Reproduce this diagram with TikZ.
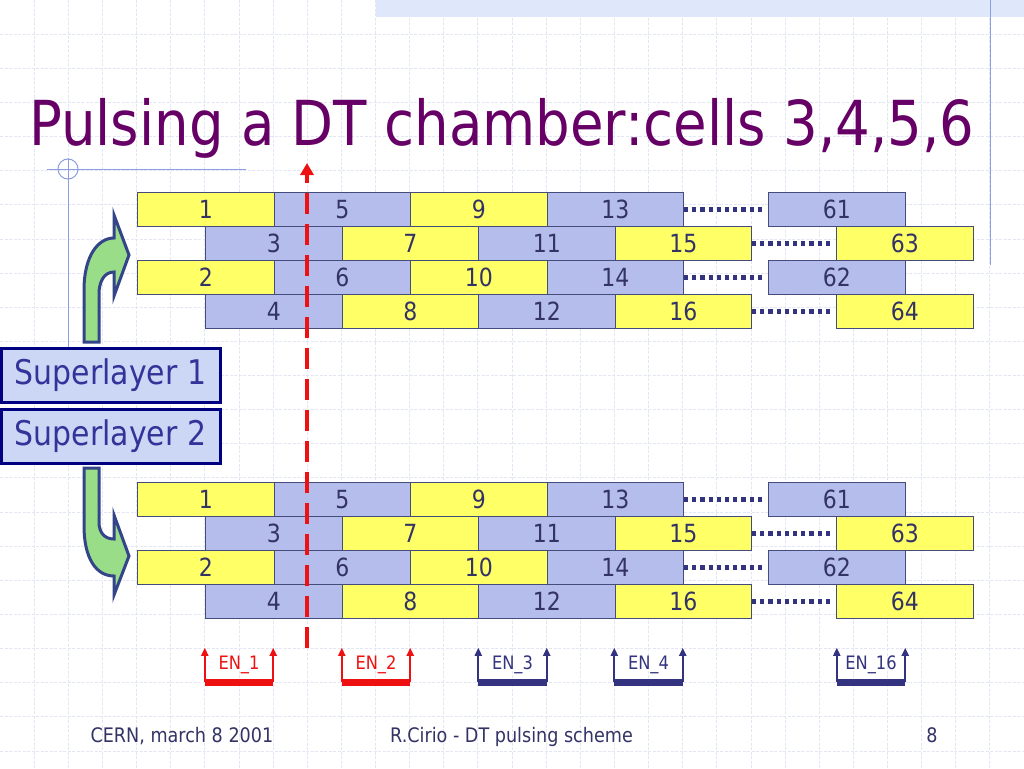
\documentclass[tikz,border=0pt]{standalone}
\usepackage{fontspec}
\setmainfont{DejaVu Sans}[FakeStretch=0.88]
\usetikzlibrary{arrows.meta}

\definecolor{titlepurple}{HTML}{660066}
\definecolor{cellyel}{HTML}{FFFF66}
\definecolor{cellblu}{HTML}{B4BDEB}
\definecolor{cellline}{HTML}{444C7C}
\definecolor{numtxt}{HTML}{333366}
\definecolor{dotblue}{HTML}{333380}
\definecolor{pulsered}{HTML}{EE1111}
\definecolor{arrowgreen}{HTML}{99DD88}
\definecolor{arrowline}{HTML}{334488}
\definecolor{slfill}{HTML}{CCD6F5}
\definecolor{slline}{HTML}{000080}
\definecolor{sltext}{HTML}{333399}
\definecolor{decorblue}{HTML}{8C9EE0}
\definecolor{gridblue}{HTML}{E2E6F5}
\definecolor{bandblue}{HTML}{DFE7FB}

\begin{document}
\begin{tikzpicture}[x=1pt,y=-1pt,
  cell/.style={draw=cellline, line width=1pt, minimum width=136.5pt, minimum height=34pt,
    inner sep=0pt, anchor=north west, text=numtxt, font=\fontsize{25}{25}\selectfont},
  gapdots/.style={draw=dotblue, line width=4.2pt, dash pattern=on 4.2pt off 4pt, shorten >=4pt},
  pulse/.style={draw=pulsered, line width=4.5pt, dash pattern=on 21pt off 10pt,
    -{Triangle[width=13pt,length=12pt]}},
  bendarrow/.style={fill=arrowgreen, draw=arrowline, line width=3pt, line join=miter},
  layerbox/.style={draw=slline, line width=3pt, fill=slfill, minimum width=219pt,
    minimum height=54pt, inner sep=0pt, text=sltext, font=\fontsize{34}{34}\selectfont},
  enlabel/.style={minimum width=68pt, minimum height=34pt, inner sep=0pt,
    font=\fontsize{18.5}{18.5}\selectfont},
  enarrow/.style={line width=2pt, -{Triangle[width=7pt,length=8pt]}},
  enbar/.style={line width=7pt},
  decor/.style={draw=decorblue, line width=1pt},
  grid/.style={draw=gridblue, line width=0.8pt, dash pattern=on 3pt off 1.5pt},
  foot/.style={anchor=base, text=numtxt, font=\fontsize{20}{20}\selectfont}]

\useasboundingbox (0,0) rectangle (1024,768);
\fill[white] (0,0) rectangle (1024,768);

% background grid
\foreach \k in {1,...,29} \draw[grid] (\k*34.133,0) -- (\k*34.133,768);
\foreach \k in {1,...,22} \draw[grid] (0,\k*34.133) -- (1024,\k*34.133);

% top band and frame lines
\fill[bandblue] (376,0) rectangle (1024,17);
\draw[decor] (990,0) -- (990,265);
\draw[decor] (47,169) -- (246,169);
\draw[decor] (68,158) -- (68,347);
\draw[decor] (68,169) circle (10pt);

% title
\node[anchor=base west, inner sep=0pt, text=titlepurple, font=\fontsize{62}{62}\selectfont]
  (title) at (29,145) {Pulsing a DT chamber:cells 3,4,5,6};

% the two superlayers, four rows of cells each
\foreach \g/\oy in {t/192,b/482}{
  \foreach \r/\n/\xo/\last in {0/1/137/61,1/3/205/63,2/2/137/62,3/4/205/64}{
    \foreach \c in {0,...,3}{
      \pgfmathtruncatemacro\num{\n+4*\c}
      \pgfmathtruncatemacro\isyel{mod(\r+\c+1,2)}
      \ifnum\isyel=1 \def\cellcol{cellyel}\else\def\cellcol{cellblu}\fi
      \node[cell, fill=\cellcol] (\g\num) at (\xo+136.5*\c,\oy+34*\r) {\num};
    }
    % last cell of the row after the gap
    \pgfmathtruncatemacro\endnum{\n+12}
    \pgfmathtruncatemacro\lastyel{mod(\r,2)}
    \ifnum\lastyel=1 \def\cellcol{cellyel}\else\def\cellcol{cellblu}\fi
    \node[cell, fill=\cellcol] (\g\last) at (\xo+631,\oy+34*\r) {\last};
    \draw[gapdots] (\g\endnum.east) -- (\g\last.west);
  }
}

% pulsed column
\coordinate (pulsetop) at (307,163);
\coordinate (pulsebot) at (307,648);
\draw[pulse] (pulsebot) -- (pulsetop);

% bent arrows into the superlayers
\draw[bendarrow] (84,342) -- (84,290) .. controls (84,256) and (98,238) .. (114,238)
  -- (114,215) -- (129,255) -- (114,296) -- (114,272)
  .. controls (104,272) and (99,282) .. (99,294) -- (99,342) -- cycle;
\draw[bendarrow] (84,468) -- (99,468) -- (99,522) .. controls (99,532) and (104,539) .. (114,539)
  -- (114,515) -- (129,556) -- (114,595) -- (114,576)
  .. controls (96,576) and (84,558) .. (84,526) -- cycle;

% superlayer labels
\node[layerbox] (sl1) at (110.5,375.5) {Superlayer 1};
\node[layerbox] (sl2) at (110.5,436.5) {Superlayer 2};

% enable signals
\foreach \name/\lab/\cx/\col in {en1/EN\_1/239/pulsered, en2/EN\_2/376/pulsered,
    en3/EN\_3/512.5/dotblue, en4/EN\_4/648.5/dotblue, en16/EN\_16/871/dotblue}{
  \node[enlabel, text=\col] (\name) at (\cx,665) {\lab};
  \draw[enarrow, draw=\col] (\name.south west) -- (\name.north west);
  \draw[enarrow, draw=\col] (\name.south east) -- (\name.north east);
  \draw[enbar, draw=\col] (\name.south west) -- (\name.south east);
}

% footer
\node[foot, anchor=base west] (place) at (87,742) {CERN, march 8 2001};
\node[foot] (talk) at (511.5,742) {R.Cirio - DT pulsing scheme};
\node[foot] (page) at (932,742) {8};

\end{tikzpicture}
\end{document}
